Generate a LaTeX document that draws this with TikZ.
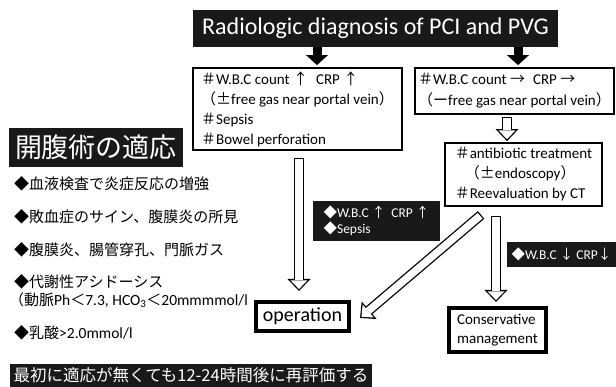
\documentclass[tikz,border=0pt]{standalone}
\usepackage{fontspec}
\setmainfont{Carlito}
\newfontfamily\jp{Noto Sans CJK JP}
\newcommand{\hsh}{{\jp ＃}}
\usetikzlibrary{arrows.meta,calc}
\begin{document}
\begin{tikzpicture}[x=1pt,y=-1pt,
  darkbox/.style={fill=black!90,text=white,inner sep=0pt},
  framebox/.style={draw=black,line width=1.8pt,fill=white,inner sep=0pt,align=left},
  thickbox/.style={draw=black,line width=4pt,fill=white,inner sep=0pt,align=left},
  bullet/.style={anchor=west,inner sep=0pt,font=\jp\fontsize{15}{18}\selectfont},
  solidarrow/.style={draw=black,line width=9pt,-{Triangle[length=10pt,width=22pt,line width=0pt]},shorten >=2pt},
  hollowout/.style={draw=black,line width=10pt,-{Triangle[length=12pt,width=23pt,line width=0pt]}},
  hollowin/.style={draw=white,line width=7.4pt,-{Triangle[length=8.8pt,width=16.9pt,line width=0pt]},shorten <=1.3pt,shorten >=1.9pt},
]
\useasboundingbox (0,0) rectangle (616,387);
\fill[white] (0,0) rectangle (616,387);

% title
\node[darkbox,minimum width=365pt,minimum height=37pt,font=\fontsize{24}{28}\selectfont] (title) at (375.5,28.5) {Radiologic diagnosis of PCI and PVG};

% upper boxes
\node[framebox,minimum width=209pt,minimum height=82pt,font=\fontsize{15}{20}\selectfont] (lb) at (297.5,109)
  {\hsh W.B.C count {\jp ↑}\hspace{8pt}CRP {\jp ↑}\\{\jp （±}free gas near portal vein{\jp ）}\\\hsh Sepsis\\\hsh Bowel perforation};
\node[framebox,minimum width=199pt,minimum height=46pt,font=\fontsize{15}{21}\selectfont] (rb) at (514.5,91)
  {\hsh W.B.C count {\jp →}\hspace{8pt}CRP {\jp →}\\{\jp （ー}free gas near portal vein{\jp ）}};
\node[framebox,minimum width=157pt,minimum height=63pt,font=\fontsize{15}{20}\selectfont] (ab) at (523.5,174.5)
  {\hsh antibiotic treatment\\\hspace*{10pt}{\jp （±}endoscopy{\jp ）}\\\hsh Reevaluation by CT};

% labels
\node[darkbox,minimum width=127pt,minimum height=40pt,align=left,font=\fontsize{13.5}{16}\selectfont] (l1) at (376.5,221)
  {{\jp ◆}W.B.C {\jp ↑}\hspace{6pt}CRP {\jp ↑}\\{\jp ◆}Sepsis};
\node[darkbox,minimum width=109pt,minimum height=25pt,font=\fontsize{13.5}{16}\selectfont] (l2) at (561.5,254.5)
  {{\jp ◆}W.B.C {\jp ↓} CRP{\jp ↓}};

% outcome boxes
\node[thickbox,minimum width=93pt,minimum height=29pt,font=\fontsize{20}{24}\selectfont] (op) at (302.5,316.5) {operation};
\node[thickbox,minimum width=97pt,minimum height=44pt,font=\fontsize{15}{19}\selectfont] (cm) at (497.5,330) {Conservative\\management};

% left column
\node[darkbox,minimum width=174pt,minimum height=39pt,font=\jp\fontsize{27}{30}\selectfont] (jt) at (96,147.5) {開腹術の適応};
\node[bullet] (b1) at (14,184) {◆血液検査で炎症反応の増強};
\node[bullet] (b2) at (14,217) {◆敗血症のサイン、腹膜炎の所見};
\node[bullet] (b3) at (14,250) {◆腹膜炎、腸管穿孔、門脈ガス};
\node[bullet] (b4) at (14,282) {◆代謝性アシドーシス};
\node[bullet] (b5) at (9,300) {（動脈{\rmfamily\fontsize{15.5}{18}\selectfont Ph}＜{\rmfamily\fontsize{15.5}{18}\selectfont 7.3, HCO\textsubscript{3}}＜{\rmfamily\fontsize{15.5}{18}\selectfont 20mmmmol/l}};
\node[bullet] (b6) at (14,333) {◆乳酸{\rmfamily\fontsize{15.5}{18}\selectfont >2.0mmol/l}};
\node[darkbox,minimum width=362pt,minimum height=23pt,font=\jp\fontsize{16.5}{18}\selectfont] (bb) at (191,375.5) {最初に適応が無くても12-24時間後に再評価する};

% solid arrows from title
\draw[solidarrow] ([xshift=-58.5pt]title.south) -- ([xshift=-58.5pt]title.south |- lb.north);
\draw[solidarrow] ([xshift=142.5pt]title.south) -- ([xshift=142.5pt]title.south |- rb.north);

% hollow arrows
\coordinate (h1s) at ($(lb.south)+(1.5,7)$);
\coordinate (h1e) at ($(h1s |- op.north)+(0,-9)$);
\coordinate (h2s) at ($(rb.south)+(-7.5,2)$);
\coordinate (h2e) at ($(h2s |- ab.north)+(0,-1)$);
\coordinate (h3s) at ($(ab.south)+(-27.5,9)$);
\coordinate (h3e) at ($(h3s |- cm.north)+(0,-4)$);
\coordinate (h4s) at ($(ab.south west)+(37,8)$);
\coordinate (h4e) at ($(op.east)+(9,1.5)$);
\foreach \s/\e in {h1s/h1e,h2s/h2e,h3s/h3e,h4s/h4e}{
  \draw[hollowout] (\s) -- (\e);
  \draw[hollowin] (\s) -- (\e);
}
\end{tikzpicture}
\end{document}
